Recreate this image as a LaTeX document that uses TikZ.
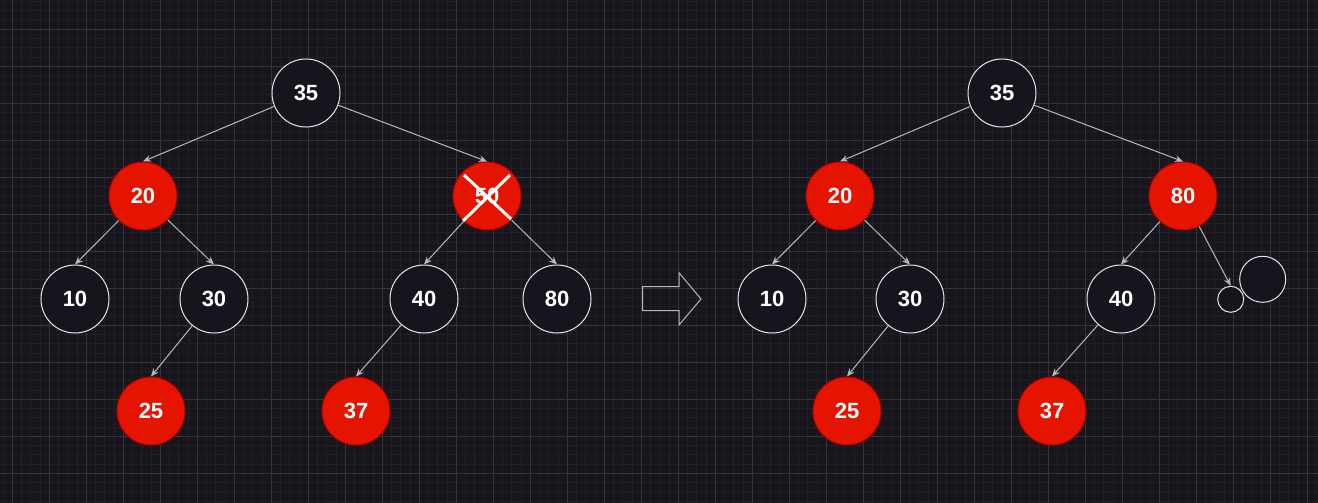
\documentclass[tikz,border=0pt]{standalone}
\usepackage{fontspec}
\setmainfont{Liberation Sans}
\usetikzlibrary{arrows.meta}
\definecolor{canvasDark}{RGB}{24,22,29}
\definecolor{gridMinor}{RGB}{33,31,39}
\definecolor{gridMajor}{RGB}{54,52,60}
\definecolor{nodeDark}{RGB}{24,20,29}
\definecolor{treeRed}{RGB}{229,20,0}
\definecolor{treeRedLine}{RGB}{178,0,0}
\definecolor{edgeGray}{RGB}{185,185,185}
\definecolor{ringGray}{RGB}{230,230,230}
\tikzset{
  blackNode/.style={circle,draw=ringGray,fill=nodeDark,line width=0.75pt,minimum size=51pt,inner sep=0pt,font=\bfseries\fontsize{16.5}{17}\selectfont,text=white},
  redNode/.style={blackNode,draw=treeRedLine,fill=treeRed},
  treeEdge/.style={draw=edgeGray,line width=0.75pt,-{Stealth[length=6pt,width=5pt]}},
}
\begin{document}
\begin{tikzpicture}[x=0.75pt,y=-0.75pt]
\useasboundingbox (0,0) rectangle (1318,503);
\fill[canvasDark] (0,0) rectangle (1318,503);
\foreach \i in {0,...,142} \draw[gridMinor,line width=0.6pt] ({3.05+9.25*\i},0) -- ++(0,503);
\foreach \i in {0,...,54} \draw[gridMinor,line width=0.6pt] (0,{1.55+9.25*\i}) -- ++(1318,0);
\foreach \i in {0,...,35} \draw[gridMajor,line width=0.6pt] ({12.3+37*\i},0) -- ++(0,503);
\foreach \i in {0,...,13} \draw[gridMajor,line width=0.6pt] (0,{29.3+37*\i}) -- ++(1318,0);

\node[blackNode] (l35) at (306,93) {35};
\node[redNode] (l20) at (143,196) {20};
\node[redNode] (l50) at (487,196) {50};
\node[blackNode] (l10) at (75,299) {10};
\node[blackNode] (l30) at (214,299) {30};
\node[blackNode] (l40) at (424,299) {40};
\node[blackNode] (l80) at (557,299) {80};
\node[redNode] (l25) at (151,411) {25};
\node[redNode] (l37) at (356,411) {37};
\draw[white,line width=2.25pt] ([shift={(-23,-21)}]l50.center) -- ([shift={(24,23)}]l50.center);
\draw[white,line width=2.25pt] ([shift={(23,-21)}]l50.center) -- ([shift={(-24,25)}]l50.center);

\draw[ringGray!80!black,line width=0.75pt] (642.7,286.7) -- (679,286.7) -- (679,272.7) -- (701,299) -- (679,325) -- (679,310.7) -- (642.7,310.7) -- cycle;

\node[blackNode] (r35) at (1002,93) {35};
\node[redNode] (r20) at (840,196) {20};
\node[redNode] (r80) at (1183,196) {80};
\node[blackNode] (r10) at (772,299) {10};
\node[blackNode] (r30) at (910,299) {30};
\node[blackNode] (r40) at (1121,299) {40};
\node[redNode] (r25) at (847,411) {25};
\node[redNode] (r37) at (1052,411) {37};
\node[blackNode,minimum size=19.5pt] (rnil) at (1230.7,299.3) {};
\node[blackNode,minimum size=34.5pt] (rghost) at (1262.7,279.3) {};

\foreach \a/\b in {l35/l20,l35/l50,l20/l10,l20/l30,l30/l25,l50/l40,l50/l80,l40/l37,
  r35/r20,r35/r80,r20/r10,r20/r30,r30/r25,r80/r40,r80/rnil,r40/r37}
  \draw[treeEdge] (\a) -- (\b.north);
\end{tikzpicture}
\end{document}
